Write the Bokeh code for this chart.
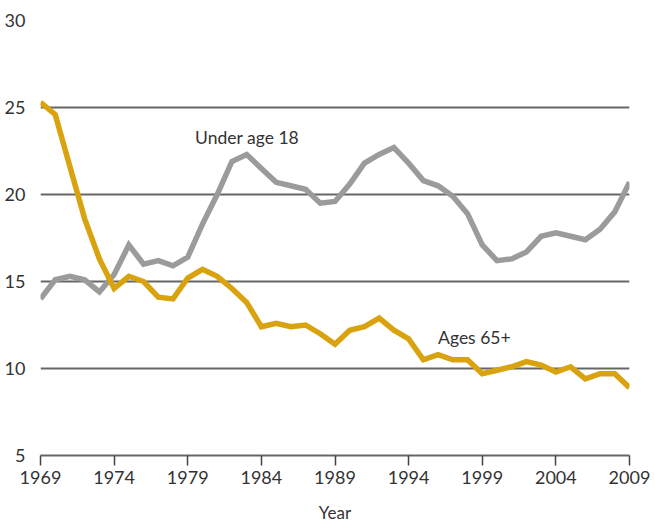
from bokeh.plotting import figure
from bokeh.models import FixedTicker, Label
from bokeh.embed import file_html
from bokeh.resources import INLINE

years = list(range(1969, 2010))
under_18 = [14.0, 15.1, 15.3, 15.1, 14.4, 15.4, 17.1, 16.0, 16.2, 15.9,
            16.4, 18.3, 20.0, 21.9, 22.3, 21.5, 20.7, 20.5, 20.3, 19.5,
            19.6, 20.6, 21.8, 22.3, 22.7, 21.8, 20.8, 20.5, 19.9, 18.9,
            17.1, 16.2, 16.3, 16.7, 17.6, 17.8, 17.6, 17.4, 18.0, 19.0, 20.7]
ages_65 = [25.3, 24.6, 21.6, 18.6, 16.3, 14.6, 15.3, 15.0, 14.1, 14.0,
           15.2, 15.7, 15.3, 14.6, 13.8, 12.4, 12.6, 12.4, 12.5, 12.0,
           11.4, 12.2, 12.4, 12.9, 12.2, 11.7, 10.5, 10.8, 10.5, 10.5,
           9.7, 9.9, 10.1, 10.4, 10.2, 9.8, 10.1, 9.4, 9.7, 9.7, 8.9]
x_ticks = [1969, 1974, 1979, 1984, 1989, 1994, 1999, 2004, 2009]
y_ticks = [5, 10, 15, 20, 25, 30]

FONT = "Lato"
p = figure(width=655, height=525, output_backend="svg", toolbar_location=None,
           x_range=(1969, 2009), y_range=(5, 30),
           min_border_left=40, min_border_right=26, min_border_top=20, min_border_bottom=70)
p.outline_line_color = None
p.xgrid.grid_line_color = None
p.ygrid.grid_line_color = "#666666"
p.ygrid.grid_line_width = 2
p.ygrid.ticker = FixedTicker(ticks=[10, 15, 20, 25, 30])

p.xaxis.ticker = FixedTicker(ticks=x_ticks)
p.xaxis.axis_line_color = "#666666"
p.xaxis.axis_line_width = 2
p.xaxis.major_tick_line_color = "#444444"
p.xaxis.major_tick_line_width = 1.5
p.xaxis.major_tick_in = 0
p.xaxis.major_tick_out = 10
p.xaxis.minor_tick_line_color = None
p.xaxis.major_label_text_font = FONT
p.xaxis.major_label_text_font_size = "18px"
p.xaxis.major_label_text_color = "#333333"
p.xaxis.major_label_standoff = 5
p.xaxis.axis_label = "Year"
p.xaxis.axis_label_text_font = FONT
p.xaxis.axis_label_text_font_style = "normal"
p.xaxis.axis_label_text_font_size = "17px"
p.xaxis.axis_label_text_color = "#333333"
p.xaxis.axis_label_standoff = 15

p.yaxis.ticker = FixedTicker(ticks=y_ticks)
p.yaxis.axis_line_color = None
p.yaxis.major_tick_line_color = None
p.yaxis.minor_tick_line_color = None
p.yaxis.major_label_text_font = FONT
p.yaxis.major_label_text_font_size = "18px"
p.yaxis.major_label_text_color = "#333333"
p.yaxis.major_label_standoff = 9

p.line(years, under_18, line_color="#9b9b9b", line_width=5.5, line_join="miter")
p.line(years, ages_65, line_color="#d9a30f", line_width=5.5, line_join="miter")

p.add_layout(Label(x=1979.5, y=23.3, text="Under age 18", text_font=FONT,
                   text_font_size="17.5px", text_color="#333333", text_baseline="middle"))
p.add_layout(Label(x=1996.0, y=11.8, text="Ages 65+", text_font=FONT,
                   text_font_size="17.5px", text_color="#333333", text_baseline="middle"))

open("out.html", "w").write(file_html(p, INLINE))
